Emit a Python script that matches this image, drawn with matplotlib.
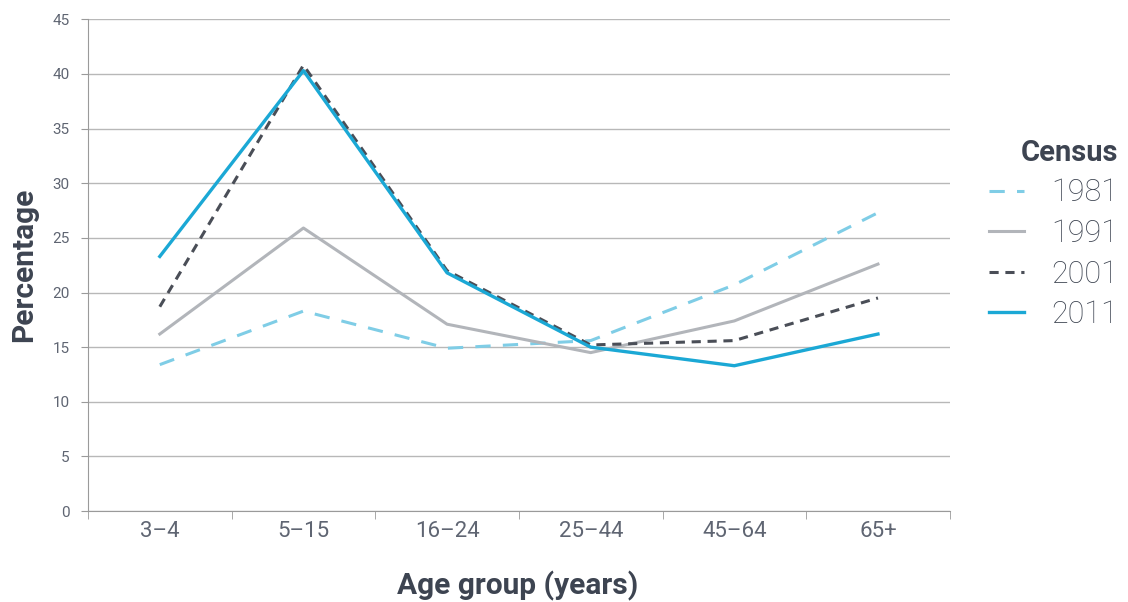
import matplotlib
matplotlib.use('Agg')
from matplotlib import pyplot as plt
import numpy as np

age_groups = ['3\u20134', '5\u201315', '16\u201324', '25\u201344', '45\u201364', '65+']
census_1981 = [13.4, 18.3, 14.9, 15.6, 20.7, 27.3]
census_1991 = [16.2, 25.9, 17.1, 14.5, 17.4, 22.6]
census_2001 = [18.7, 40.8, 22.0, 15.2, 15.6, 19.5]
census_2011 = [23.3, 40.3, 21.8, 15.0, 13.3, 16.2]

text_col = '#3d4451'
tick_col = '#5f6572'
axis_col = '#9a9a9a'
regular = dict(family='Roboto', weight='normal')

fig = plt.figure(figsize=(11.28, 6.02), dpi=100)
ax = fig.add_axes([0.078, 0.151, 0.764, 0.817])

x = np.arange(len(age_groups))
l1, = ax.plot(x, census_1981, color='#7fcde6', lw=2.2, dashes=(5, 4), label='1981')
l2, = ax.plot(x, census_1991, color='#b2b5ba', lw=2.2, label='1991')
l3, = ax.plot(x, census_2001, color='#4a4e57', lw=2.2, dashes=(3, 2.2), label='2001')
l4, = ax.plot(x, census_2011, color='#1ba8d5', lw=2.4, label='2011')

ax.set_xlim(-0.5, 5.5)
ax.set_ylim(0, 45)
ax.set_yticks(range(0, 46, 5))
ax.set_xticks(x)
ax.set_xticklabels(age_groups, fontdict=regular)
ax.set_yticklabels([str(v) for v in range(0, 46, 5)], fontdict=regular)
ax.set_xticks(np.arange(-0.5, 6, 1), minor=True)
ax.tick_params(axis='x', which='major', length=0, labelsize=16, labelcolor=tick_col, pad=7)
ax.tick_params(axis='x', which='minor', length=6, color=axis_col)
ax.tick_params(axis='y', length=5, color=axis_col, labelsize=11, labelcolor=tick_col, pad=8)
ax.grid(axis='y', color='#b8b8b8', lw=1)
ax.set_axisbelow(True)
for s in ['top', 'right']:
    ax.spines[s].set_visible(False)
for s in ['left', 'bottom']:
    ax.spines[s].set_color(axis_col)

fig.text(0.021, 0.56, 'Percentage', rotation=90, ha='center', va='center',
         fontsize=21.5, fontweight='bold', family='Roboto', color=text_col)
fig.text(0.459, 0.026, 'Age group (years)', ha='center', va='center',
         fontsize=21.5, fontweight='bold', family='Roboto', color=text_col)

leg = fig.legend(handles=[l1, l2, l3, l4], loc='upper right', bbox_to_anchor=(1.005, 0.795),
                 frameon=False, title='Census', handlelength=1.15,
                 labelspacing=0.38, handletextpad=0.9, alignment='right',
                 prop=dict(family='Roboto', weight='light', size=22), borderpad=0)
leg.get_title().set_fontsize(21)
leg.get_title().set_fontweight('bold')
leg.get_title().set_family('Roboto')
leg.get_title().set_color(text_col)
for t in leg.get_texts():
    t.set_color(text_col)

fig.savefig('out.png', dpi=100)
